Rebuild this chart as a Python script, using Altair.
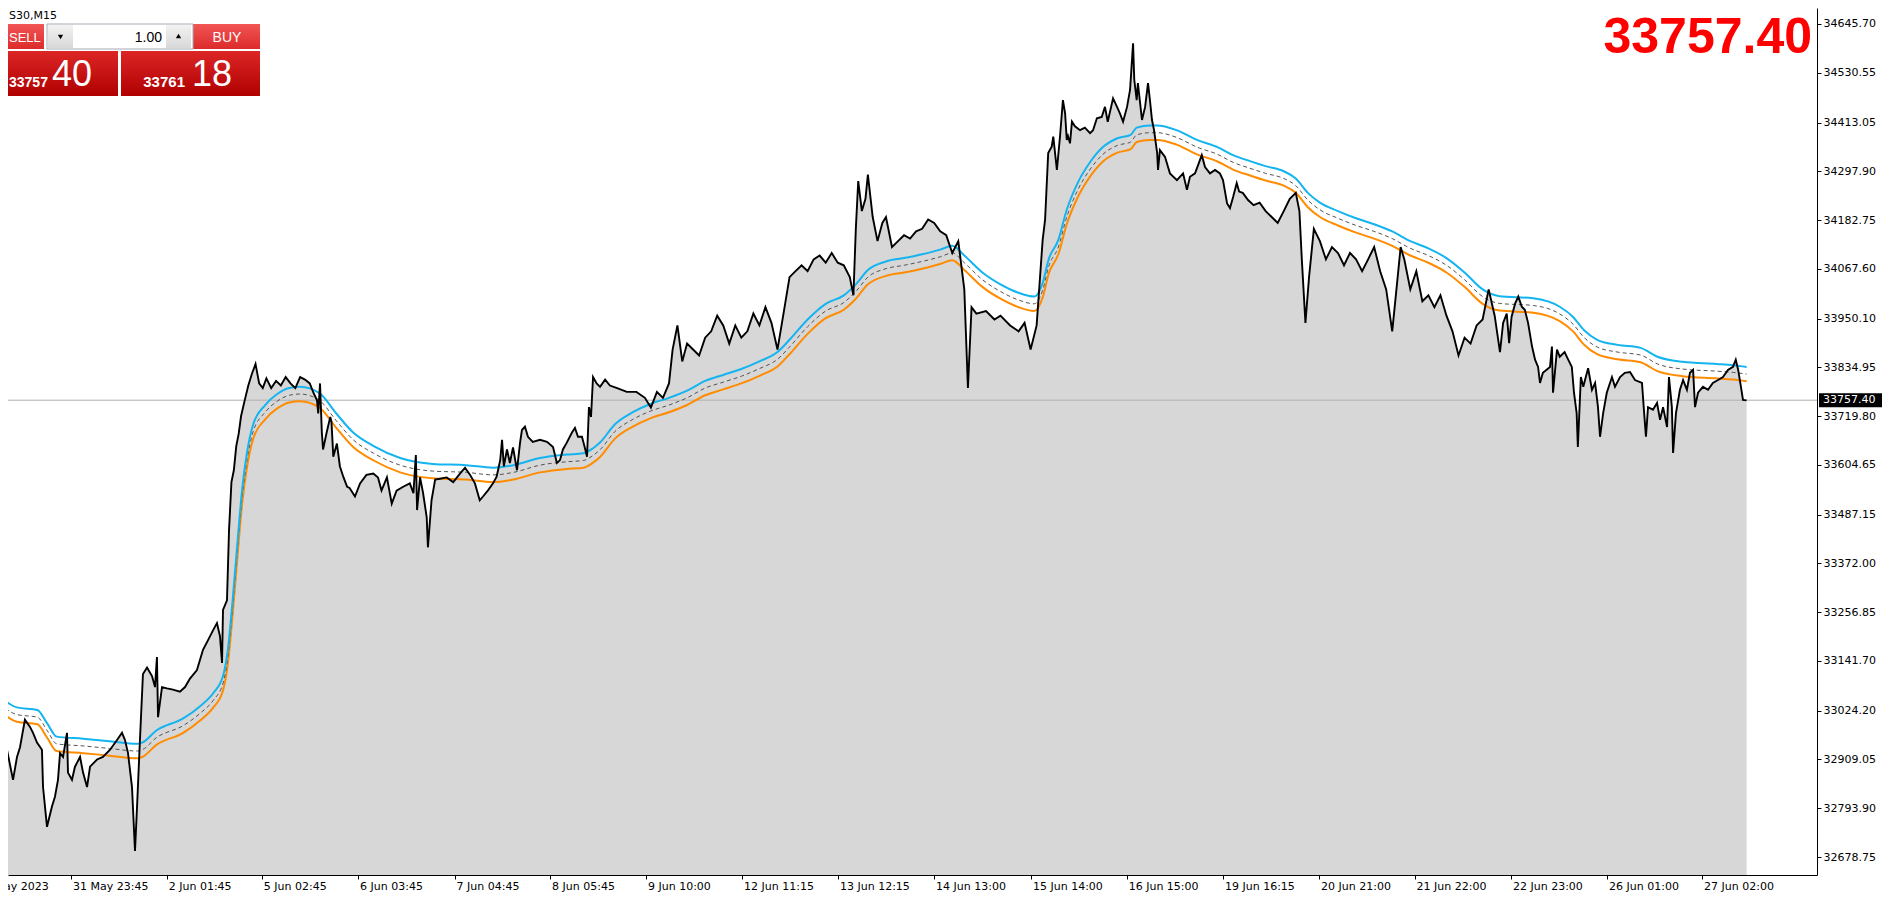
import altair as alt
import pandas as pd

# ---------------- data ----------------
symbol = "S30,M15"
lot = "1.00"
bid = 33757.40
ask = 33761.18

# bar index (chart column) and close price of the M15 line
price_bar = [
    0, 5.8, 10.8, 14.1, 16.6, 20.7, 24.9, 27.4, 30.7, 34.8, 35.7, 39, 43.1, 45.6, 48.1, 49.8, 52.3, 55.6, 56.4, 59.7,
    62.2, 66.4, 68.9, 72.2, 74.7, 80.5, 85.4, 91.3, 97.1, 101.2, 103.7, 106.2, 109.5, 112, 113.7, 116.1, 118.6, 122,
    126.1, 128.6, 130.2, 131.1, 134.4, 138.5, 143.5, 149.3, 153.5, 157.6, 163.4, 168.4, 172.6, 176.7, 180, 182.5,
    184.2, 185, 188.3,
    190, 192, 194, 196, 198, 200, 203, 206, 209, 212, 215, 218, 221, 225, 229, 233, 237, 241, 245, 249,
    253, 257, 260, 263, 264, 265.5, 267, 268, 271, 274, 275, 276.5, 279.5, 282, 285, 288, 290, 294.5, 298.7, 304,
    309.7, 313.6, 316.5, 321, 325, 329, 334.5, 340, 343, 345, 346, 348.5, 351, 354, 355, 358, 361, 365, 370.6, 376,
    381.6, 385.8, 390, 394, 398, 400.7, 405, 409, 412, 415, 416.5, 418, 420.6, 423, 425.6, 428.9, 431.4, 433, 435.5,
    438, 442, 448, 453.8, 458.8, 462, 464.6, 467, 470, 474.5, 477, 479.5, 482.8, 485.3, 487, 488.6, 490.3, 492, 495,
    497.8,
    502, 506, 512, 520, 528, 535, 540, 545, 550, 555, 558, 562, 566, 570, 575, 580, 585, 590, 595, 600, 605, 610,
    615, 620, 625, 630, 635, 640, 645, 650, 655, 660, 665, 670, 675, 680, 685, 690, 695, 700, 705, 708, 710, 712,
    715, 718, 720, 724, 728, 732, 735, 740, 745, 750, 755, 760, 765, 770, 775, 780, 785, 790, 795, 800, 803, 806,
    810, 818, 825, 830, 838, 845, 850, 855, 860, 865,
    867, 869.6, 872.5, 873.8, 876.8, 879.4, 881.8, 883.6, 885, 886, 887.7, 889.3, 891.8, 896, 900, 904.3, 906.8,
    910, 914, 916.7, 919, 923.4, 926.7, 929, 931.7, 935, 937.5, 940, 941, 943, 944, 947.4, 950, 952.4, 954, 955.7,
    957.4, 960, 960.7, 962.3, 966.5, 970.6, 976.4, 981.5, 984.7, 987.2, 991.4, 997, 999.7, 1003.8, 1008, 1012,
    1014.6, 1018, 1020.4, 1023, 1026, 1028, 1031, 1035.4,
    1040, 1045, 1050, 1055, 1060, 1065, 1070, 1075, 1078, 1080, 1083, 1086, 1090, 1095, 1100, 1105, 1110, 1115,
    1120, 1125, 1130, 1135, 1140, 1145, 1150, 1155, 1158, 1162, 1165, 1170, 1175, 1180, 1185, 1190, 1195, 1200,
    1205, 1210, 1215, 1220, 1225, 1230, 1235, 1240,
    1244.4, 1247, 1250, 1252, 1254, 1257, 1259.6, 1262.5, 1265, 1267.7, 1271, 1273.5, 1276, 1277.6, 1280, 1285.9,
    1287.5, 1288.4, 1291.7, 1294, 1298, 1301, 1304, 1305.8, 1308, 1309, 1311.5, 1313.5, 1317.5, 1320.7, 1323.3,
    1325.7, 1327.4, 1330, 1333, 1337.3, 1339.8, 1344, 1348, 1352.3, 1356.4, 1362.2, 1364, 1365.5, 1367.2, 1371.3,
    1374.7, 1377.2, 1379.7, 1383, 1384.6, 1387, 1388, 1390.4, 1393.7, 1396.3, 1399.5, 1402, 1404.6, 1406.2, 1408.7,
    1412.8, 1417, 1421, 1425.3, 1429.4, 1433.5, 1437.7, 1440, 1442, 1444.3, 1446, 1449,
]
price_close = [
    32949, 32932, 32861, 32915, 32938, 33003, 32986, 32972, 32949, 32932, 32844, 32750, 32798, 32821, 32861, 32924,
    32915, 32972, 32878, 32861, 32892, 32915, 32878, 32844, 32892, 32909, 32915, 32932, 32955, 32972, 32955, 32924,
    32844, 32693, 32798, 32955, 33111, 33126, 33106, 33080, 33151, 33009, 33080, 33077, 33074, 33069, 33080, 33100,
    33120, 33168, 33191, 33214, 33231, 33200, 33137, 33262, 33285,
    33450, 33564, 33592, 33649, 33678, 33720, 33757, 33792, 33820, 33843, 33797, 33786, 33809, 33786, 33803, 33792,
    33812, 33797, 33786, 33812,
    33806, 33797, 33775, 33757, 33726, 33797, 33681, 33641, 33681, 33718, 33706, 33624, 33655, 33601, 33575, 33553,
    33550, 33530, 33561, 33581, 33584, 33575, 33544, 33575, 33513, 33544, 33553, 33561, 33538, 33628, 33498, 33575,
    33538, 33481, 33410, 33521, 33570, 33572, 33575, 33564, 33584, 33598, 33581, 33561, 33521, 33530, 33545, 33561,
    33577, 33616, 33664, 33601, 33641, 33609, 33646, 33592, 33656, 33687, 33695, 33671, 33659, 33664, 33659, 33647,
    33609, 33616, 33641, 33656, 33681, 33692, 33671, 33671, 33644, 33624, 33741, 33718, 33812, 33797, 33789,
    33806, 33792, 33786, 33777, 33777, 33763, 33740, 33777, 33763, 33797, 33877, 33934, 33849, 33891, 33877, 33863,
    33905, 33920, 33957, 33934, 33891, 33934, 33905, 33920, 33962, 33934, 33977, 33940, 33877, 33962, 34048, 34062,
    34076, 34062, 34090, 34099, 34082, 34105, 34082, 34076, 34048, 34005, 34162, 34275, 34204, 34233, 34290, 34190,
    34133, 34176, 34190, 34119, 34133, 34147, 34139, 34156, 34162, 34184, 34176, 34156, 34147, 34105, 34133, 34019,
    33786, 33977, 33962, 33968, 33948, 33957, 33934, 33920, 33940, 33877, 33934, 34136,
    34183, 34341, 34356, 34380, 34301, 34380, 34466, 34435, 34372, 34381, 34364, 34415, 34404, 34395, 34401, 34388,
    34395, 34423, 34426, 34450, 34415, 34470, 34450, 34435, 34415, 34450, 34490, 34600, 34514, 34466, 34506, 34419,
    34450, 34506, 34466, 34419, 34395, 34341, 34301, 34348, 34332, 34293, 34277, 34293, 34254, 34285, 34293, 34336,
    34308, 34293, 34301, 34293, 34277, 34222, 34211, 34237, 34270, 34250, 34247, 34230,
    34218, 34224, 34204, 34190, 34176, 34204, 34233, 34247, 34204, 34090, 33940, 34048, 34162, 34133, 34090, 34119,
    34105, 34076, 34105, 34090, 34062, 34090, 34119, 34062, 34019, 33920, 34005, 34119, 34090, 34019, 34062, 33991,
    34005, 33977, 34005, 33957, 33920, 33863, 33905, 33891, 33934, 33948, 34019, 33957,
    33871, 33940, 33962, 33892, 33954, 33986, 34002, 33978, 33971, 33940, 33884, 33853, 33836, 33798, 33822, 33836,
    33884, 33775, 33877, 33860, 33871, 33853, 33836, 33775, 33727, 33647, 33812, 33789, 33833, 33782, 33798, 33741,
    33671, 33727, 33775, 33812, 33789, 33812, 33822, 33824, 33805, 33798, 33727, 33671, 33741, 33735, 33751, 33711,
    33741, 33694, 33812, 33741, 33633, 33727, 33782, 33805, 33782, 33822, 33829, 33741, 33775, 33789, 33782, 33798,
    33805, 33812, 33829, 33836, 33853, 33829, 33789, 33758, 33757,
]

# Envelopes indicator (upper / middle / lower)
band_bar = [
    0, 14, 31, 39, 47, 69, 91, 114, 118, 130, 152, 166, 177, 185, 189, 193, 197, 201, 205, 210,
    220, 230, 240, 249, 265, 279, 293, 310, 332, 359, 387, 409, 426, 448, 470, 484, 492, 498, 510, 525,
    540, 555, 570, 585, 600, 615, 630, 645, 655, 670, 685, 700, 710, 720, 735, 750, 765, 780, 790, 800,
    815, 830, 845, 858, 865, 870, 878, 885, 894, 904, 915, 927, 938, 943, 954, 960, 976, 993, 1010, 1023,
    1037, 1050, 1065, 1075, 1085, 1095, 1110, 1125, 1140, 1155, 1170, 1185, 1200, 1215, 1230, 1244, 1272, 1294,
    1305, 1314, 1325, 1342, 1361, 1375, 1396, 1424, 1438, 1449,
]
band_upper = [
    33057, 33032, 33026, 32995, 32963, 32958, 32952, 32946, 32949, 32978, 33006, 33035, 33066, 33106, 33168, 33285,
    33422, 33550, 33635, 33700, 33746, 33772, 33786, 33789, 33774, 33726, 33681, 33649, 33621, 33607, 33604, 33598,
    33604, 33621, 33629, 33632, 33644, 33658, 33700, 33729, 33749, 33763, 33780, 33803, 33817, 33831, 33849, 33871,
    33900, 33948, 33985, 34005, 34031, 34065, 34085, 34093, 34102, 34113, 34122, 34099, 34059, 34031, 34011, 34002,
    34034, 34090, 34136, 34207, 34270, 34318, 34355, 34376, 34384, 34401, 34406, 34406, 34395, 34372, 34355, 34336,
    34322, 34310, 34298, 34281, 34247, 34224, 34204, 34187, 34173, 34156, 34133, 34116, 34093, 34059, 34019, 34003,
    33998, 33978, 33954, 33923, 33900, 33888, 33881, 33860, 33848, 33843, 33840, 33836,
]
band_middle = [
    33040, 33015, 33009, 32978, 32946, 32941, 32935, 32929, 32932, 32961, 32989, 33018, 33049, 33089, 33151, 33268,
    33405, 33533, 33618, 33683, 33729, 33755, 33769, 33772, 33757, 33709, 33664, 33632, 33604, 33590, 33587, 33581,
    33587, 33604, 33612, 33615, 33627, 33641, 33683, 33712, 33732, 33746, 33763, 33786, 33800, 33814, 33832, 33854,
    33883, 33931, 33968, 33988, 34014, 34048, 34068, 34076, 34085, 34096, 34105, 34082, 34042, 34014, 33994, 33985,
    34017, 34073, 34119, 34190, 34253, 34301, 34338, 34359, 34367, 34384, 34389, 34389, 34378, 34355, 34338, 34319,
    34305, 34293, 34281, 34264, 34230, 34207, 34187, 34170, 34156, 34139, 34116, 34099, 34076, 34042, 34002, 33986,
    33981, 33961, 33937, 33906, 33883, 33871, 33864, 33843, 33831, 33826, 33823, 33819,
]
band_lower = [
    33023, 32998, 32992, 32961, 32929, 32924, 32918, 32912, 32915, 32944, 32972, 33001, 33032, 33072, 33134, 33251,
    33388, 33516, 33601, 33666, 33712, 33738, 33752, 33755, 33740, 33692, 33647, 33615, 33587, 33573, 33570, 33564,
    33570, 33587, 33595, 33598, 33610, 33624, 33666, 33695, 33715, 33729, 33746, 33769, 33783, 33797, 33815, 33837,
    33866, 33914, 33951, 33971, 33997, 34031, 34051, 34059, 34068, 34079, 34088, 34065, 34025, 33997, 33977, 33968,
    34000, 34056, 34102, 34173, 34236, 34284, 34321, 34342, 34350, 34367, 34372, 34372, 34361, 34338, 34321, 34302,
    34288, 34276, 34264, 34247, 34213, 34190, 34170, 34153, 34139, 34122, 34099, 34082, 34059, 34025, 33985, 33969,
    33964, 33944, 33920, 33889, 33866, 33854, 33847, 33826, 33814, 33809, 33806, 33802,
]

# time axis: bar position of each label and its text
time_tick_bar = [-20.7, 58.9, 138.3, 217.2, 297.0, 377.1, 456.3, 535.9, 615.6, 695.2, 774.9, 855.3, 934.7,
                 1014.6, 1094.3, 1173.5, 1253.5, 1333.2, 1412.0]
time_tick_label = ["30 May 2023", "31 May 23:45", "2 Jun 01:45", "5 Jun 02:45", "6 Jun 03:45", "7 Jun 04:45",
                   "8 Jun 05:45", "9 Jun 10:00", "12 Jun 11:15", "13 Jun 12:15", "14 Jun 13:00", "15 Jun 14:00",
                   "16 Jun 15:00", "19 Jun 16:15", "20 Jun 21:00", "21 Jun 22:00", "22 Jun 23:00", "26 Jun 01:00",
                   "27 Jun 02:00"]

price_ticks = [34645.70, 34530.55, 34413.05, 34297.90, 34182.75, 34067.60, 33950.10, 33834.95, 33719.80,
               33604.65, 33487.15, 33372.00, 33256.85, 33141.70, 33024.20, 32909.05, 32793.90, 32678.75]

# ---------------- chart ----------------
W, H = 1809, 867
X_DOMAIN = [6.637, 1507.4]
Y_DOMAIN = [32636.25, 34683.48]
OFF = 8  # page margin

xs = alt.Scale(domain=X_DOMAIN, nice=False, zero=False)
ys = alt.Scale(domain=Y_DOMAIN, nice=False, zero=False)

x_axis = alt.Axis(values=time_tick_bar[1:], labels=False, ticks=True, tickSize=4, tickColor="black",
                  domainColor="black", domainWidth=1, grid=False, title=None)
y_axis = alt.Axis(orient="right", values=price_ticks, format=".2f", labelFont="DejaVu Sans", labelFontSize=11,
                  labelColor="black", tickColor="black", tickSize=4, domainColor="black", domainWidth=1,
                  labelPadding=2, grid=False, title=None, labelOverlap=False, labelFlush=False)


def X(field):
    return alt.X(field, type="quantitative", scale=xs, axis=x_axis)


def Y(field):
    return alt.Y(field, type="quantitative", scale=ys, axis=y_axis)


price_df = pd.DataFrame({"bar": price_bar, "close": price_close})
band_df = pd.DataFrame({"bar": band_bar, "upper": band_upper, "middle": band_middle, "lower": band_lower})
tick_df = pd.DataFrame({"bar": time_tick_bar, "label": time_tick_label})
bid_df = pd.DataFrame({"p": [bid]})
one = pd.DataFrame({"k": [0]})

layers = []

# grey area under the price
layers.append(alt.Chart(price_df).mark_area(color="#d7d7d7", clip=True).encode(
    x=X("bar"), y=Y("close"), y2=alt.value(H)))

# bid line
layers.append(alt.Chart(bid_df).mark_rule(color="#b0b0b0", strokeWidth=1).encode(y=Y("p")))

# envelopes
layers.append(alt.Chart(band_df).mark_line(color="#ff8c00", strokeWidth=2, interpolate="monotone", clip=True)
              .encode(x=X("bar"), y=Y("lower")))
layers.append(alt.Chart(band_df).mark_line(color="#555555", strokeWidth=1, strokeDash=[4, 3],
                                           interpolate="monotone", clip=True)
              .encode(x=X("bar"), y=Y("middle")))
layers.append(alt.Chart(band_df).mark_line(color="#14b4f0", strokeWidth=2, interpolate="monotone", clip=True)
              .encode(x=X("bar"), y=Y("upper")))

# price line
layers.append(alt.Chart(price_df).mark_line(color="black", strokeWidth=1.9, clip=True, strokeJoin="miter")
              .encode(x=X("bar"), y=Y("close")))

# time labels
layers.append(alt.Chart(tick_df).mark_text(align="left", baseline="middle", font="DejaVu Sans", fontSize=11,
                                           color="black", dx=2)
              .encode(x=X("bar"), y=alt.value(H + 12), text="label:N"))

# current price tag on the scale
layers.append(alt.Chart(bid_df).mark_tick(orient="horizontal", size=63, thickness=14, color="black", opacity=1)
              .encode(x=alt.value(W + 33.5), y=Y("p")))
layers.append(alt.Chart(bid_df).mark_text(align="left", baseline="middle", font="DejaVu Sans", fontSize=11,
                                          color="white")
              .encode(x=alt.value(W + 6), y=Y("p"), text=alt.Text("p:Q", format=".2f")))

# big red price
layers.append(alt.Chart(bid_df).mark_text(align="right", baseline="alphabetic", font="Liberation Sans",
                                          fontWeight="bold", fontSize=50, color="#ff0000")
              .encode(x=alt.value(1812 - OFF), y=alt.value(53 - OFF), text=alt.Text("p:Q", format=".2f")))


# ---- one-click trading panel (decoration) ----
def grad(top, bottom):
    return {"gradient": "linear", "x1": 0, "y1": 0, "x2": 0, "y2": 1,
            "stops": [{"offset": 0, "color": top}, {"offset": 1, "color": bottom}]}


def rect(x1, y1, x2, y2, fill, stroke=None):
    kw = {"fill": fill, "strokeWidth": 1}
    if stroke:
        kw["stroke"] = stroke
    return alt.Chart(one).mark_rect(**kw).encode(
        x=alt.value(x1 - OFF), x2=alt.value(x2 - OFF), y=alt.value(y1 - OFF), y2=alt.value(y2 - OFF))


def txt(s, x, y, **kw):
    return alt.Chart(one).mark_text(text=s, **kw).encode(x=alt.value(x - OFF), y=alt.value(y - OFF))


bid_s = f"{bid:.2f}"
ask_s = f"{ask:.2f}"

layers += [
    txt(symbol, 9, 16, align="left", baseline="middle", font="DejaVu Sans", fontSize=11, color="black"),
    rect(0, 24, 44, 49, grad("#f25656", "#dc2a2a")),
    rect(193, 24, 260, 49, grad("#f25656", "#dc2a2a")),
    rect(47, 24, 193, 49, "#ffffff", "#a3aab2"),
    rect(48, 25, 73, 48, grad("#f2f2f2", "#d8d8d8")),
    rect(166, 25, 191, 48, grad("#f2f2f2", "#d8d8d8")),
    rect(0, 51, 118, 96, grad("#dc2626", "#b00000")),
    rect(121, 51, 260, 96, grad("#dc2626", "#b00000")),
    alt.Chart(one).mark_point(shape="triangle-down", filled=True, size=28, color="black", opacity=1)
    .encode(x=alt.value(60.5 - OFF), y=alt.value(37 - OFF)),
    alt.Chart(one).mark_point(shape="triangle-up", filled=True, size=28, color="black", opacity=1)
    .encode(x=alt.value(178.5 - OFF), y=alt.value(36 - OFF)),
    txt("SELL", 9, 42, align="left", baseline="alphabetic", font="Liberation Sans", fontSize=13, color="white"),
    txt("BUY", 227, 42, align="center", baseline="alphabetic", font="Liberation Sans", fontSize=14, color="white"),
    txt(lot, 162, 42, align="right", baseline="alphabetic", font="Liberation Sans", fontSize=14, color="black"),
    txt(bid_s[:5], 9, 87, align="left", baseline="alphabetic", font="Liberation Sans", fontSize=14,
        fontWeight="bold", color="white"),
    txt(bid_s[-2:], 52, 86, align="left", baseline="alphabetic", font="Liberation Sans", fontSize=36,
        color="white"),
    txt(ask_s[:5], 185, 87, align="right", baseline="alphabetic", font="Liberation Sans", fontSize=15,
        fontWeight="bold", color="white"),
    txt(ask_s[-2:], 192, 86, align="left", baseline="alphabetic", font="Liberation Sans", fontSize=36,
        color="white"),
]

chart = alt.layer(*layers).properties(
    width=W, height=H,
    autosize=alt.AutoSizeParams(type="none"),
    padding={"left": 0, "top": 0, "right": 65, "bottom": 20},
    background="white",
).configure_view(stroke=None)

chart.save("out.html", embed_options={"renderer": "svg", "actions": False})
